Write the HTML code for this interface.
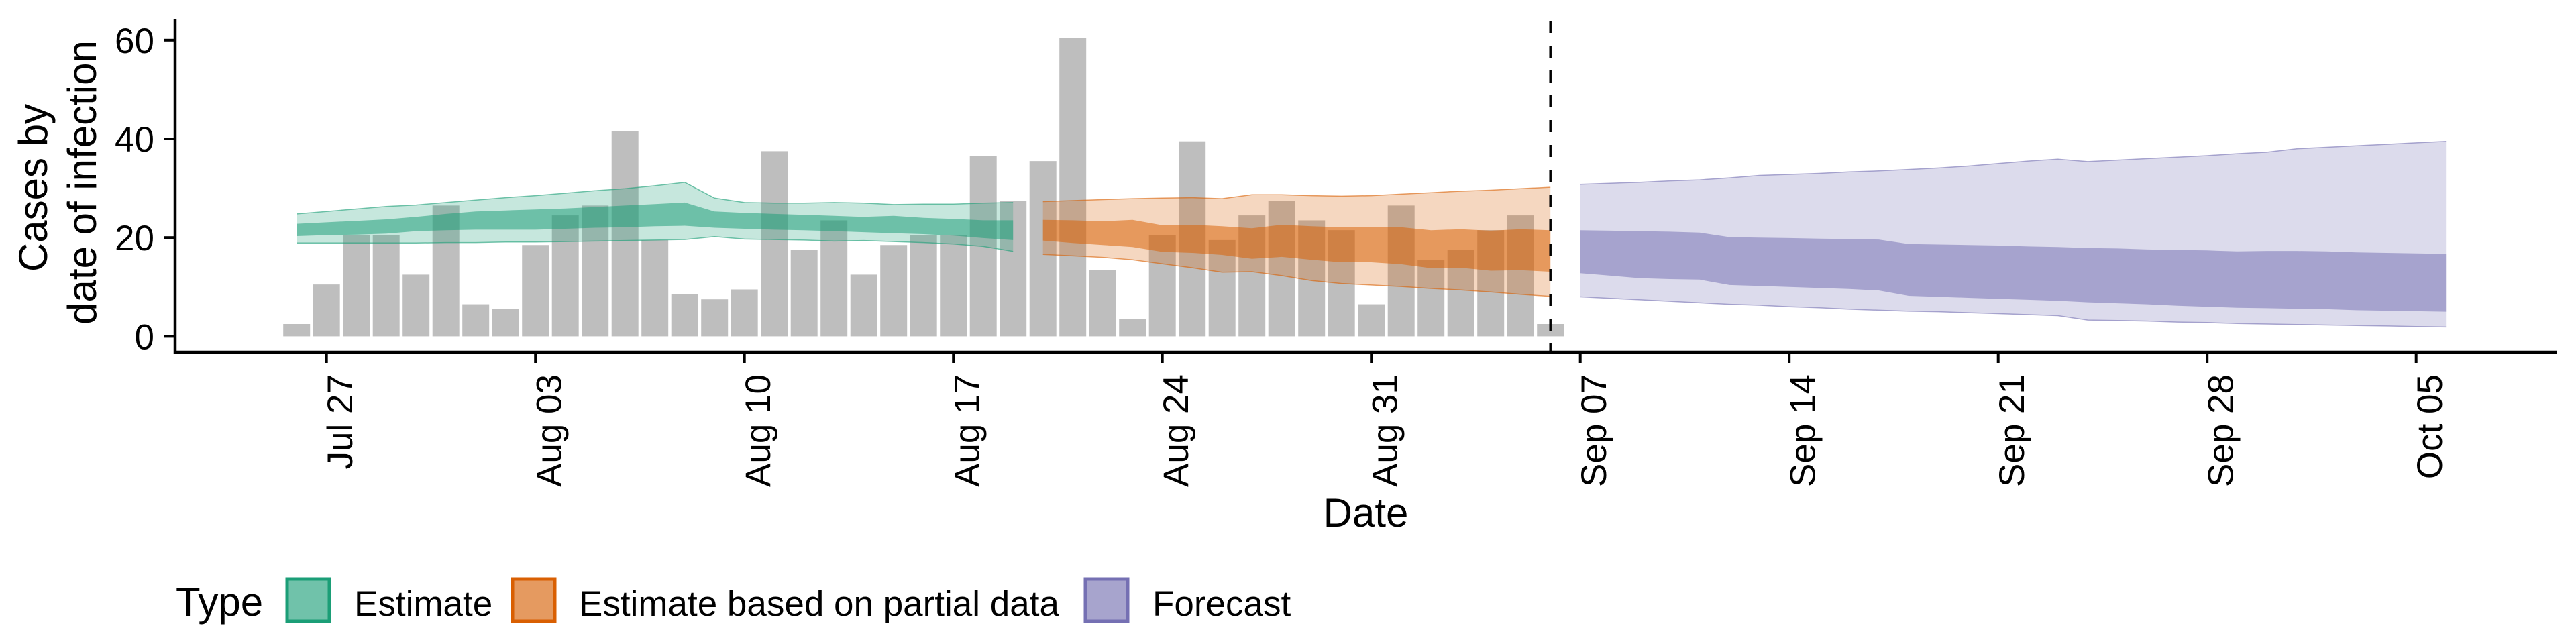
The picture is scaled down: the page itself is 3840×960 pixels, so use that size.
<!DOCTYPE html>
<html><head><meta charset="utf-8"><style>
html,body{margin:0;padding:0;background:#fff;}
svg{display:block;font-family:"Liberation Sans",Arial,sans-serif;}
</style></head><body>
<svg id="chart" width="3840" height="960" viewBox="0 0 3840 960" xmlns="http://www.w3.org/2000/svg">
<g id="bars"></g>
<g id="ribbons"></g>
<g id="axes"></g>
<text font-size="60" text-anchor="middle" transform="translate(70,280) rotate(-90)">Cases by</text>
<text font-size="60" text-anchor="middle" transform="translate(143,272) rotate(-90)">date of infection</text>
<text font-size="60" text-anchor="middle" x="2036" y="785">Date</text>
<g>
<text x="262" y="918" font-size="60">Type</text>
<rect x="428" y="863" width="63" height="63" fill="#70c2aa" stroke="#1b9e77" stroke-width="5"/>
<text x="528" y="918" font-size="53">Estimate</text>
<rect x="764" y="863" width="63" height="63" fill="#e59a60" stroke="#d95f02" stroke-width="5"/>
<text x="863" y="918" font-size="53">Estimate based on partial data</text>
<rect x="1618" y="863" width="63" height="63" fill="#a7a4cd" stroke="#7570b3" stroke-width="5"/>
<text x="1718" y="918" font-size="53">Forecast</text>
</g>
</svg>
<script>
// ---- data ----
const barStartDay = 0; // Jul 26
const barValues = [2.5,10.5,20.5,20.5,12.5,26.5,6.5,5.5,18.5,24.5,26.5,41.5,19.5,8.5,7.5,9.5,37.5,17.5,23.5,12.5,18.5,20.5,20.5,36.5,27.5,35.5,60.5,13.5,3.5,20.5,39.5,19.5,24.5,27.5,23.5,21.5,6.5,26.5,15.5,17.5,21.5,24.5,2.5];
const estStart = 0;
const estOuterUpper = [24.8,25.3,25.8,26.3,26.6,27.1,27.6,28.1,28.5,29.0,29.5,29.9,30.5,31.2,28.0,27.1,27.0,27.0,27.1,27.0,26.7,26.8,26.8,27.0,27.1];
const estInnerUpper = [22.8,23.1,23.4,23.7,24.2,24.8,25.3,25.5,25.7,25.9,26.2,26.5,26.8,27.1,25.3,25.0,24.8,24.6,24.4,24.2,24.4,24.0,23.8,23.5,23.5];
const estInnerLower = [20.3,20.5,20.6,20.8,21.3,21.5,21.6,21.6,21.6,21.8,22.0,22.1,22.3,22.4,22.0,21.8,21.6,21.5,21.3,21.1,20.9,20.7,20.4,19.9,19.5];
const estOuterLower = [18.9,18.9,18.9,18.9,18.9,19.0,19.0,19.1,19.1,19.2,19.3,19.4,19.5,19.6,20.2,19.7,19.6,19.5,19.3,19.4,19.2,19.0,18.7,18.2,17.2];
const partStart = 25;
const partOuterUpper = [27.3,27.5,27.7,27.9,28.0,28.1,27.9,28.7,28.7,28.5,28.4,28.5,28.8,29.1,29.4,29.6,29.9,30.2];
const partInnerUpper = [23.6,23.5,23.3,23.6,22.5,22.6,22.3,21.9,22.6,22.3,22.1,22.1,22.1,21.5,21.7,21.4,21.7,21.5];
const partInnerLower = [19.4,18.9,18.5,18.1,17.1,16.9,16.5,15.7,16.1,15.5,15.0,15.0,14.6,13.8,13.9,13.3,13.4,13.1];
const partOuterLower = [16.6,16.3,16.0,15.5,14.7,13.9,13.0,13.1,12.3,11.3,10.7,10.4,10.1,9.7,9.4,9.0,8.5,8.1];
const fcStart = 43;
const fcOuterUpper = [30.8,31.0,31.2,31.5,31.7,32.1,32.6,32.8,33.0,33.3,33.5,33.8,34.1,34.5,35.0,35.5,35.9,35.4,35.7,36.0,36.3,36.6,37.0,37.3,38.0,38.3,38.6,38.9,39.2,39.5];
const fcInnerUpper = [21.5,21.4,21.3,21.2,21.0,20.1,20.0,19.9,19.8,19.7,19.6,18.7,18.6,18.5,18.4,18.2,18.1,17.9,17.8,17.6,17.5,17.4,17.2,17.3,17.3,17.2,17.0,16.9,16.8,16.7];
const fcInnerLower = [12.8,12.3,11.8,11.6,11.5,10.4,10.2,10.0,9.8,9.6,9.3,8.2,8.0,7.8,7.6,7.4,7.2,6.9,6.7,6.5,6.2,6.0,5.8,5.7,5.6,5.5,5.3,5.2,5.1,5.0];
const fcOuterLower = [8.0,7.7,7.4,7.1,6.8,6.5,6.3,6.0,5.8,5.5,5.3,5.1,5.0,4.8,4.6,4.4,4.2,3.3,3.2,3.1,2.9,2.8,2.6,2.5,2.4,2.3,2.2,2.1,2.0,1.9];
const yTicks = [0,20,40,60];
const xTickDays = [1,8,15,22,29,36,43,50,57,64,71];
const xTickLabels = ["Jul 27","Aug 03","Aug 10","Aug 17","Aug 24","Aug 31","Sep 07","Sep 14","Sep 21","Sep 28","Oct 05"];
const forecastDividerDay = 42;

// ---- scales ----
const NS = "http://www.w3.org/2000/svg";
function xScale(d){ return 442.2 + d*44.5; }
function yScale(v){ return 501.4 - v*7.36; }
function mk(tag, attrs, parent){ const e=document.createElementNS(NS,tag); for(const k in attrs) e.setAttribute(k,attrs[k]); parent.appendChild(e); return e; }

const barsG = document.getElementById('bars');
barValues.forEach((v,i)=>{
  const cx = xScale(barStartDay+i);
  const r = mk('rect',{x:cx-20,y:yScale(v),width:40,height:yScale(0)-yScale(v),fill:'#bebebe'},barsG);
  
  
});

const ribG = document.getElementById('ribbons');
function band(start, up, lo, fill, op, name, strokeCol){
  let pts = up.map((v,i)=>xScale(start+i).toFixed(1)+','+yScale(v).toFixed(1));
  for(let i=lo.length-1;i>=0;i--) pts.push(xScale(start+i).toFixed(1)+','+yScale(lo[i]).toFixed(1));
  const p = mk('polygon',{points:pts.join(' '),fill:fill,'fill-opacity':op},ribG);
  
  
  if(strokeCol){
    [up,lo].forEach(arr=>{
      const l = mk('polyline',{points:arr.map((v,i)=>xScale(start+i).toFixed(1)+','+yScale(v).toFixed(1)).join(' '),fill:'none',stroke:strokeCol,'stroke-width':1.5,'stroke-opacity':0.6},ribG);
      
      
    });
  }
}
band(estStart, estOuterUpper, estOuterLower, '#1b9e77', 0.25, 'estimate-outer-band', '#1b9e77');
band(estStart, estInnerUpper, estInnerLower, '#1b9e77', 0.52, 'estimate-inner-band');
band(partStart, partOuterUpper, partOuterLower, '#d95f02', 0.25, 'partial-outer-band', '#d95f02');
band(partStart, partInnerUpper, partInnerLower, '#d95f02', 0.52, 'partial-inner-band');
band(fcStart, fcOuterUpper, fcOuterLower, '#7570b3', 0.25, 'forecast-outer-band', '#7570b3');
band(fcStart, fcInnerUpper, fcInnerLower, '#7570b3', 0.52, 'forecast-inner-band');

const axG = document.getElementById('axes');
const dv = mk('line',{x1:xScale(forecastDividerDay),x2:xScale(forecastDividerDay),y1:31,y2:525,stroke:'#000','stroke-width':3.5,'stroke-dasharray':'18 19'},axG);


const ya = mk('line',{x1:261,x2:261,y1:29,y2:527,stroke:'#000','stroke-width':4.5},axG);


const xa = mk('line',{x1:259,x2:3812,y1:525,y2:525,stroke:'#000','stroke-width':4.5},axG);


yTicks.forEach(v=>{
  const t = mk('line',{x1:245,x2:261,y1:yScale(v),y2:yScale(v),stroke:'#000','stroke-width':4},axG);
  
  
  const l = mk('text',{x:230,y:yScale(v)+19,'text-anchor':'end','font-size':53,fill:'#000'},axG);
  l.textContent = String(v);
  
  
});
xTickDays.forEach((d,i)=>{
  const x = xScale(d);
  const t = mk('line',{x1:x,x2:x,y1:525,y2:541,stroke:'#000','stroke-width':4},axG);
  
  
  const l = mk('text',{'text-anchor':'end','font-size':53,fill:'#000',transform:'translate('+(x+38.5)+',558) rotate(-90)'},axG);
  l.textContent = xTickLabels[i];
  
  
});
</script>
</body></html>
